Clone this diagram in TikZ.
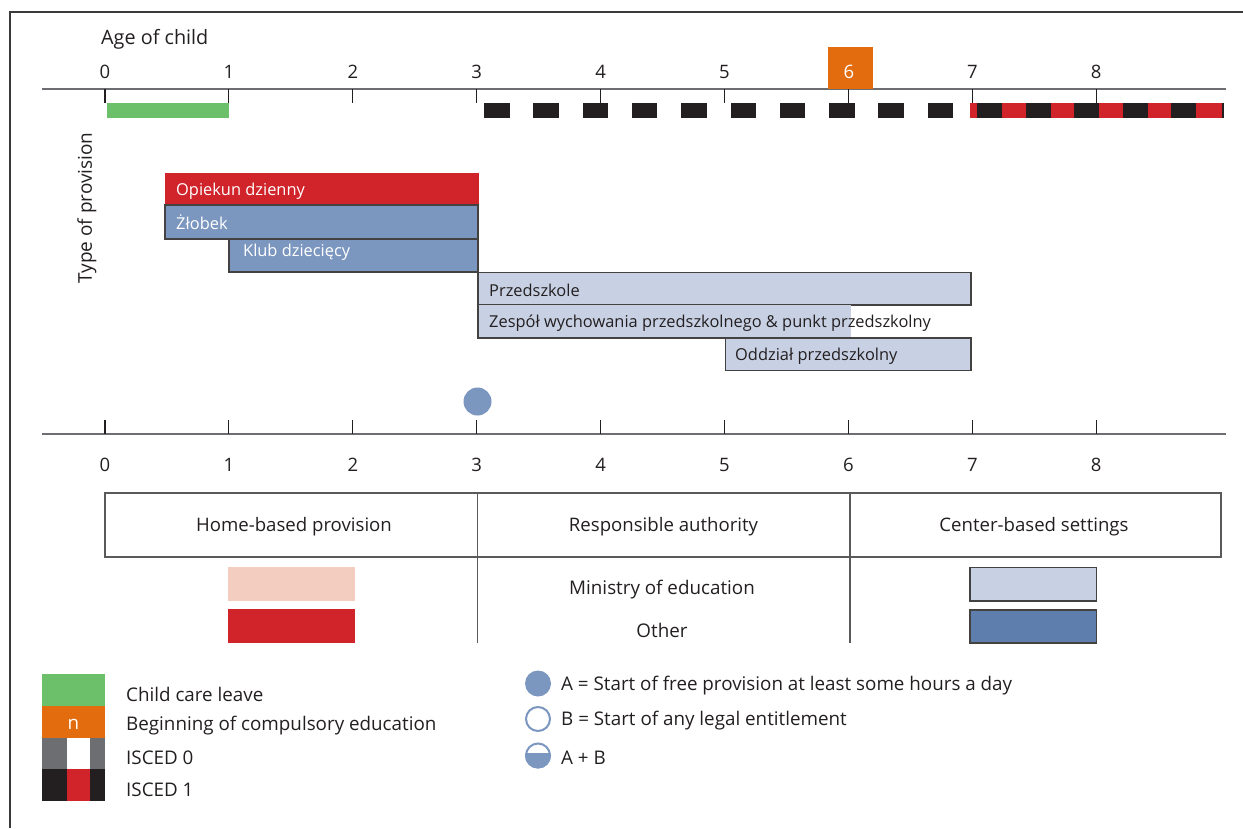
\documentclass[tikz,border=0pt]{standalone}
\usepackage{fontspec}
\setmainfont{Open Sans}
\definecolor{txt}{HTML}{231F20}
\definecolor{axgray}{HTML}{6D6E71}
\definecolor{frame}{HTML}{3A3A3A}
\definecolor{leavegreen}{HTML}{6CC06A}
\definecolor{compor}{HTML}{E36C0E}
\definecolor{iscedred}{HTML}{D0232A}
\definecolor{iscedblk}{HTML}{231F20}
\definecolor{midblue}{HTML}{7B96BF}
\definecolor{lightblue}{HTML}{C8D1E4}
\definecolor{darkblue}{HTML}{5E7EAE}
\definecolor{lightpink}{HTML}{F3CEC0}
\definecolor{tblgray}{HTML}{5A5A5A}
\begin{document}
\begin{tikzpicture}[x=1pt,y=-1pt,
  lbl/.style={font=\fontsize{18.8}{22}\selectfont, text=txt, inner sep=0pt, yshift=-2pt},
  numlbl/.style={font=\fontsize{18.5}{22}\selectfont, text=txt, inner sep=0pt, yshift=-1.5pt},
  barlbl/.style={font=\fontsize{16.4}{19}\selectfont, inner sep=0pt, anchor=west, yshift=-2pt},
  vlbl/.style={font=\fontsize{19}{22}\selectfont, text=txt, inner sep=0pt},
  tick/.style={draw=txt, line width=1.1pt},
  axis/.style={draw=axgray, line width=2.2pt},
  barbox/.style={draw=txt!85, line width=1.1pt},
  tbl/.style={draw=tblgray, line width=1.3pt}]
\useasboundingbox (0,0) rectangle (1243,828);
% frame
\draw[frame, line width=1.5pt] (10,828) -- (10,12) -- (1243,12);
% top axis
\node[lbl, anchor=west, font=\fontsize{19.8}{23}\selectfont] (agetitle) at (101,37) {Age of child};
\draw[axis] (42,89) -- (1226,89);
\foreach \a in {0,...,8}{
  \draw[tick] ({105+123.9*\a},89) -- ({105+123.9*\a},103);
}
\foreach \a in {0,1,2,3,4,5,7,8}{
  \node[numlbl] (top\a) at ({105+123.9*\a},70) {\a};
}
\fill[compor] (828,47) rectangle (873,89);
\node[numlbl, text=white] (top6) at (849,70) {6};
% child care leave
\fill[leavegreen] (107,102.5) rectangle (229,117.5);
% ISCED 0 dashes
\foreach \i in {0,...,9}{
  \fill[iscedblk] ({484+49.3*\i},102.5) rectangle ({509.5+49.3*\i},117.5);
}
% ISCED 1
\fill[iscedred] (969.5,102.5) rectangle (1221.5,117.5);
\foreach \i in {0,...,4}{
  \fill[iscedblk] ({977+48.6*\i},102.5) rectangle ({1002+48.6*\i},117.5);
}
\fill[iscedblk] (1221.5,102.5) rectangle (1223.5,117.5);
% type of provision
\node[vlbl, rotate=90] (typeprov) at (87,208) {Type of provision};
% bars
\fill[iscedred] (165,173) rectangle (478.7,205);
\node[barlbl, text=white] (opiekun) at (176,189) {Opiekun dzienny};
\filldraw[midblue, barbox] (165,205) rectangle (478,239);
\node[barlbl, text=white] (zlobek) at (176,220) {Żłobek};
\filldraw[midblue, barbox] (229,239) rectangle (478,272);
\node[barlbl, text=white] (klub) at (243,250) {Klub dziecięcy};
\filldraw[lightblue, barbox] (478,272.5) rectangle (971,305);
\node[barlbl, text=txt] (przedszkole) at (489,288) {Przedszkole};
\fill[lightblue] (478,305) rectangle (851,338);
\draw[barbox] (478,305) -- (478,338) -- (851,338);
\node[barlbl, text=txt] (zespol) at (489,321) {Zespół wychowania przedszkolnego \& punkt przedszkolny};
\filldraw[lightblue, barbox] (725.5,338) rectangle (971,370.5);
\node[barlbl, text=txt] (oddzial) at (735,354) {Oddział przedszkolny};
% A marker
\fill[midblue] (477.5,401.5) circle (14);
% bottom axis
\draw[axis] (42,434) -- (1226,434);
\foreach \a in {0,...,8}{
  \draw[tick] ({105+123.9*\a},420) -- ({105+123.9*\a},434);
  \node[numlbl] (bot\a) at ({105+123.9*\a},463) {\a};
}
% table
\draw[tbl] (105,493) rectangle (1221,557);
\draw[tbl] (477.5,493) -- (477.5,643);
\draw[tbl] (850,493) -- (850,643);
\node[lbl, font=\fontsize{18.6}{22}\selectfont] (home) at (294,525) {Home-based provision};
\node[lbl, font=\fontsize{18.6}{22}\selectfont] (resp) at (663.5,525) {Responsible authority};
\node[lbl, font=\fontsize{18.6}{22}\selectfont] (center) at (1034,525) {Center-based settings};
\node[lbl] (ministry) at (662,588) {Ministry of education};
\node[lbl] (other) at (662,628) {Other};
\fill[lightpink] (228,567) rectangle (355,601);
\fill[iscedred] (228,609) rectangle (355,643);
\filldraw[lightblue, barbox] (970,567.5) rectangle (1096.5,601);
\filldraw[darkblue, barbox] (970,610) rectangle (1096.5,643);
% legend left
\fill[leavegreen] (42,674) rectangle (105,706);
\fill[compor] (42,706) rectangle (105,738);
\node[lbl, text=white] (nmark) at (73.5,722) {n};
\fill[axgray] (42,738) rectangle (105,769);
\fill[white] (67,738) rectangle (90,769);
\fill[iscedblk] (42,769) rectangle (105,801);
\fill[iscedred] (67,769) rectangle (90,801);
\node[lbl, anchor=west] (legleave) at (126,692) {Child care leave};
\node[lbl, anchor=west] (legcomp) at (126,724) {Beginning of compulsory education};
\node[lbl, anchor=west] (legi0) at (126,756) {ISCED 0};
\node[lbl, anchor=west] (legi1) at (126,788) {ISCED 1};
% legend right
\fill[midblue] (538,683.5) circle (13);
\draw[midblue, line width=2pt] (538,719) circle (12);
\begin{scope}
  \clip (524,753) rectangle (552,770);
  \fill[midblue] (538,755.5) circle (13);
\end{scope}
\draw[midblue, line width=2pt] (538,755.5) circle (12);
\node[lbl, anchor=west] (lega) at (561,684) {A = Start of free provision at least some hours a day};
\node[lbl, anchor=west] (legb) at (561,719) {B = Start of any legal entitlement};
\node[lbl, anchor=west] (legab) at (561,756) {A + B};
\end{tikzpicture}
\end{document}
